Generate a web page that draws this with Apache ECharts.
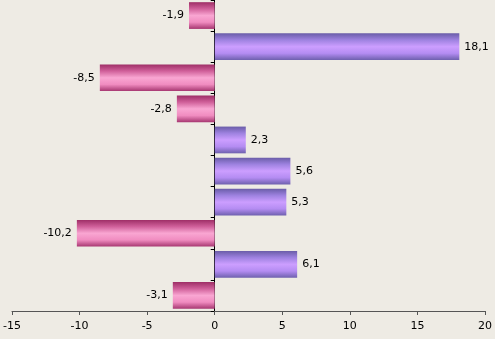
<!DOCTYPE html>
<html><head><meta charset="utf-8">
<script src="https://cdn.jsdelivr.net/npm/echarts@6/dist/echarts.min.js"></script>
<style>html,body{margin:0;padding:0;background:#EEEBE4;}#c{width:495px;height:339px;}</style>
</head><body><div id="c"></div>
<script>
const categories = ['A','B','C','D','E','F','G','H','I','J'];
const values = [-1.9, 18.1, -8.5, -2.8, 2.3, 5.6, 5.3, -10.2, 6.1, -3.1];
const xTicks = [-15, -10, -5, 0, 5, 10, 15, 20];

function grad(neg){
  const c = neg ? ['#9E2E66','#D0609A','#F9A6D2','#F08CC0','#A63670']
                : ['#6A5DA8','#9E82E0','#CC9EFF','#B48CF2','#6E60AE'];
  return new echarts.graphic.LinearGradient(0,0,0,1,[
    {offset:0,color:c[0]},{offset:0.25,color:c[1]},{offset:0.5,color:c[2]},{offset:0.75,color:c[3]},{offset:1,color:c[4]}]);
}
const chart = echarts.init(document.getElementById('c'));
chart.setOption({
  backgroundColor:'#EEEBE4',
  animation:false,
  grid:{left:10,right:7,top:0,bottom:28,containLabel:false},
  xAxis:{type:'value',min:xTicks[0],max:xTicks[xTicks.length-1],interval:5,
    splitLine:{show:false},
    axisLine:{show:true,lineStyle:{color:'#555',width:1}},
    axisTick:{show:true,length:4,lineStyle:{color:'#555'}},
    axisLabel:{color:'#000',fontFamily:'DejaVu Sans',fontSize:11,margin:10,
      formatter:v=>String(v)}},
  yAxis:{type:'category',data:categories,inverse:true,
    axisLine:{show:true,onZero:true,lineStyle:{color:'#000',width:1}},
    axisTick:{show:true,length:4,inside:false,lineStyle:{color:'#000'}},
    axisLabel:{show:false}},
  series:[{type:'bar',barCategoryGap:'14%',
    data:values.map(v=>({value:v,itemStyle:{color:grad(v<0)},
      label:{show:true,position:v<0?'left':'right',distance:5}})),
    label:{color:'#000',fontFamily:'DejaVu Sans',fontSize:11,
      formatter:p=>String(p.value).replace('.',',')}
  }]
});
</script></body></html>
